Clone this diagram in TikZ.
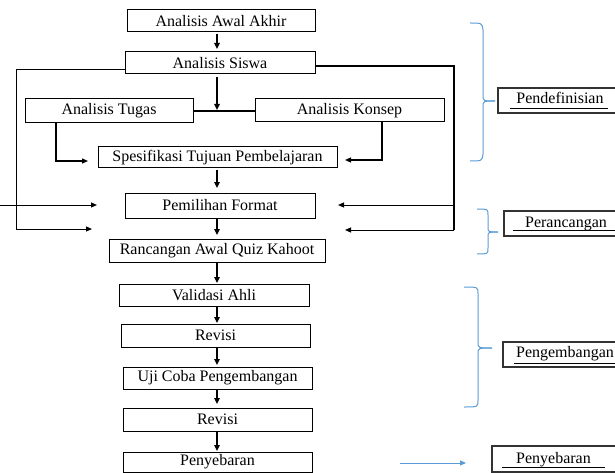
\documentclass[tikz,border=0pt]{standalone}
\usepackage{fontspec}
\setmainfont{Liberation Serif}
\usetikzlibrary{arrows.meta}
\definecolor{bblue}{RGB}{91,155,213}
\begin{document}
\begin{tikzpicture}[x=1pt,y=-1pt,
 box/.style={draw, line width=1pt, inner sep=0pt, outer sep=0pt, font=\fontsize{16}{18}\selectfont},
 arr/.style={line width=1.5pt, -{Triangle[length=6pt,width=5.5pt]}},
 arrthin/.style={line width=1pt, -{Triangle[length=6pt,width=5pt]}},
 ln/.style={line width=1.2pt},
 brace/.style={draw=bblue, line width=1pt},
 lbl/.style={inner sep=0pt, anchor=base, font=\fontsize{16}{18}\selectfont},
 lblbox/.style={line width=1.1pt, draw=black!80},
]
\useasboundingbox (0,0) rectangle (615,473);

% main boxes
\node[box, minimum width=188pt, minimum height=22pt] (aaa) at (221,21) {Analisis Awal Akhir};
\node[box, minimum width=190pt, minimum height=22pt] (siswa) at (220,63) {Analisis Siswa};
\node[box, minimum width=168pt, minimum height=24pt] (tugas) at (109,111) {Analisis Tugas};
\node[box, minimum width=189pt, minimum height=23pt] (konsep) at (349.5,110.5) {Analisis Konsep};
\node[box, minimum width=239pt, minimum height=21pt] (spes) at (217.5,157.5) {Spesifikasi Tujuan Pembelajaran};
\node[box, minimum width=190pt, minimum height=25pt] (pemilihan) at (220,205.5) {Pemilihan Format};
\node[box, minimum width=216pt, minimum height=23pt] (rancangan) at (217,250.5) {Rancangan Awal Quiz Kahoot};
\node[box, minimum width=190pt, minimum height=22pt] (validasi) at (214,295) {Validasi Ahli};
\node[box, minimum width=189pt, minimum height=23pt] (revisia) at (215.5,335.5) {Revisi};
\node[box, minimum width=189pt, minimum height=22pt] (uji) at (217.5,378) {Uji Coba Pengembangan};
\node[box, minimum width=189pt, minimum height=23pt] (revisib) at (217.5,419.5) {Revisi};
\node[box, minimum width=189pt, minimum height=20pt] (penyebaran) at (217.5,462) {Penyebaran};

% helper coordinates
\coordinate (col) at (217,0);
\coordinate (J) at (217,111);
\coordinate (T1) at (88,161);
\coordinate (K1) at (345,160);
\coordinate (LL) at (16,229);
\coordinate (LLe) at (92,229);
\coordinate (L2s) at (0,205);
\coordinate (L2e) at (97,205);
\coordinate (RR) at (454,230);
\coordinate (RRe) at (345,230);
\coordinate (RM) at (454,205);
\coordinate (RMe) at (338,205);

% vertical arrows
\draw[arr, shorten <=2pt, shorten >=3pt] (aaa.south -| col) -- (siswa.north -| col);
\draw[arr, shorten <=3pt, shorten >=1pt] (siswa.south -| col) -- (J);
\draw[ln] (tugas.east) -- (tugas.east -| konsep.west);
\draw[arr, shorten <=2pt, shorten >=5pt] (spes.south -| col) -- (pemilihan.north -| col);
\draw[arr, shorten <=1pt, shorten >=4pt] (pemilihan.south -| col) -- (rancangan.north -| col);
\draw[arr, shorten <=1pt, shorten >=1pt] (rancangan.south -| col) -- (validasi.north -| col);
\draw[arr, shorten <=1pt, shorten >=1pt] (validasi.south -| col) -- (revisia.north -| col);
\draw[arr, shorten <=1pt, shorten >=2pt] (revisia.south -| col) -- (uji.north -| col);
\draw[arr, shorten <=1pt, shorten >=4pt] (uji.south -| col) -- (revisib.north -| col);
\draw[arr, shorten <=1pt, shorten >=1pt] (revisib.south -| col) -- (penyebaran.north -| col);

% side connectors
\draw[arrthin, line width=1.2pt] ([xshift=-53pt]tugas.south) |- (T1);
\draw[arrthin, line width=1.2pt] ([xshift=32.5pt]konsep.south) |- (K1);
\draw[arrthin] ([yshift=-7pt]siswa.west) -| (LL) -- (LLe);
\draw[arrthin] (L2s) -- (L2e);
\draw[ln] ([yshift=-3pt]siswa.east) -| (RR);
\draw[arrthin] (RR) -- (RRe);
\draw[arrthin] (RM) -- (RMe);

% braces
\draw[brace] (470,23) .. controls (482,23) .. (483,30) -- (483,95) .. controls (483,101) .. (495,101);
\draw[brace] (495,101) .. controls (483,101) .. (483,107) -- (483,154) .. controls (482,161) .. (470,161);
\draw[brace] (477,209) .. controls (488,209) .. (488,215) -- (488,227) .. controls (488,232) .. (498,232);
\draw[brace] (498,232) .. controls (488,232) .. (488,237) -- (488,248) .. controls (488,254) .. (477,254);
\draw[brace] (464,287) .. controls (478,287) .. (478,294) -- (478,342) .. controls (478,348) .. (492,348);
\draw[brace] (492,348) .. controls (478,348) .. (478,354) -- (478,400) .. controls (478,407) .. (464,407);

% blue arrow
\coordinate (B1) at (400,463);
\coordinate (B2) at (466,463);
\draw[bblue, line width=1pt, -{Triangle[length=6pt,width=5pt]}] (B1) -- (B2);

% stage labels
\node[lbl] (pdef) at (560,104) {Pendefinisian};
\draw[lblbox] (615,88) -| (498,113) -- (615,113);
\draw[line width=0.8pt] ([xshift=-6pt,yshift=-4pt]pdef.base west) -- ([xshift=4pt,yshift=-4pt]pdef.base east);

\node[lbl] (prc) at (566,227) {Perancangan};
\draw[lblbox] (615,211) -| (504,236) -- (615,236);
\draw[line width=0.8pt] ([xshift=-12pt,yshift=-3pt]prc.base west) -- ([xshift=8pt,yshift=-3pt]prc.base east);

\node[lbl] (pgb) at (565,357) {Pengembangan};
\draw[lblbox] (615,342) -| (503,367) -- (615,367);
\draw[line width=0.8pt] ([xshift=-2pt,yshift=-6pt]pgb.base west) -- ([xshift=2pt,yshift=-6pt]pgb.base east);

\node[lbl] (pyb) at (553.5,463) {Penyebaran};
\draw[lblbox] (615,446) -| (492,472) -- (615,472);
\draw[line width=0.8pt] ([xshift=-14pt,yshift=-4pt]pyb.base west) -- ([xshift=14pt,yshift=-4pt]pyb.base east);
\end{tikzpicture}
\end{document}
